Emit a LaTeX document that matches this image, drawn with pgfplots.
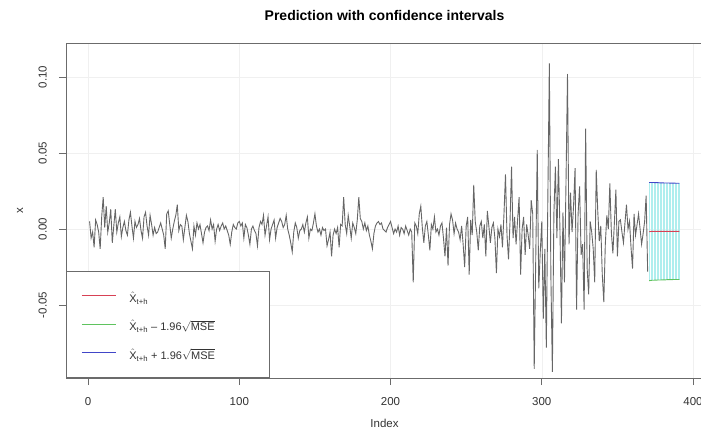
\documentclass[border=0pt]{standalone}
\usepackage{pgfplots}
\pgfplotsset{compat=1.18}
\usepackage{pgfplotstable}
\usepackage{amsmath}
\usepackage{fontspec}
\setmainfont{Liberation Sans}
\definecolor{serie}{rgb}{0.40,0.40,0.40}
\definecolor{predred}{RGB}{215,65,85}
\definecolor{lowgreen}{RGB}{95,195,95}
\definecolor{highblue}{RGB}{65,70,200}
\definecolor{cyanline}{RGB}{175,238,238}
\definecolor{frame}{rgb}{0.42,0.42,0.42}

\pgfplotstableread{
h pred lo hi
371 -0.0018 -0.0340 0.0306
372 -0.0016 -0.0338 0.0306
373 -0.0015 -0.0337 0.0306
374 -0.0015 -0.0337 0.0306
375 -0.0015 -0.0336 0.0305
376 -0.0015 -0.0336 0.0305
377 -0.0015 -0.0335 0.0305
378 -0.0015 -0.0335 0.0304
379 -0.0015 -0.0335 0.0304
380 -0.0015 -0.0334 0.0304
381 -0.0015 -0.0334 0.0303
382 -0.0015 -0.0334 0.0303
383 -0.0015 -0.0333 0.0303
384 -0.0015 -0.0333 0.0303
385 -0.0015 -0.0333 0.0302
386 -0.0015 -0.0333 0.0302
387 -0.0015 -0.0332 0.0302
388 -0.0015 -0.0332 0.0302
389 -0.0015 -0.0332 0.0301
390 -0.0015 -0.0332 0.0301
391 -0.0015 -0.0332 0.0301
}\fc

\begin{document}
\begin{tikzpicture}
\path[use as bounding box] (-66pt,-59pt) rectangle (635pt,378pt);
\begin{axis}[
  scale only axis,
  width=637pt, height=335pt,
  xmin=-14.6, xmax=406.6,
  ymin=-0.098, ymax=0.1224,
  axis line style={frame, line width=0.6pt},
  xtick={0,100,200,300,400},
  xticklabels={0,100,200,300,400},
  ytick={-0.05,0,0.05,0.10},
  yticklabels={-0.05,0.00,0.05,0.10},
  xtick pos=bottom, ytick pos=left,
  tick align=outside,
  major tick length=7pt,
  tick style={frame, line width=0.6pt},
  grid=major,
  grid style={black!6, line width=0.5pt},
  ticklabel style={font=\fontsize{11.5}{13}\selectfont, text=black!80},
  xticklabel style={anchor=center, yshift=-17pt},
  yticklabel style={anchor=south, rotate=90, inner ysep=12pt},
  title={Prediction with confidence intervals},
  title style={at={(0.5,1.0627)}, anchor=center, font=\bfseries\fontsize{14}{16}\selectfont},
  xlabel={Index},
  xlabel style={at={(axis description cs:0.5,-0.134)}, anchor=center, font=\fontsize{11.5}{13}\selectfont, text=black!80},
  ylabel={x},
  ylabel style={at={(axis description cs:-0.0722,0.5)}, anchor=center, rotate=0, font=\fontsize{11.5}{13}\selectfont, text=black!80},
  legend style={at={(0,0)}, anchor=south west, draw=frame, line width=0.6pt, fill=white,
     inner xsep=15pt, inner ysep=15pt, row sep=9pt,
     font=\fontsize{11}{13}\selectfont, text=black!80},
  legend cell align=left,
  legend image code/.code={\draw[#1, line width=1pt] (0pt,0pt) -- (34pt,0pt);},
]
\addplot[forget plot, serie, line width=0.9pt] coordinates {
(1,0.005) (2,-0.006) (3,-0.002) (4,-0.012) (5,0.006) (6,0.003) (7,-0.002) (8,-0.013) (9,0.008) (10,0.021)
(11,0.001) (12,0.015) (13,-0.002) (14,0.004) (15,0.013) (16,-0.009) (17,0.002) (18,0.013) (19,-0.002) (20,0.004)
(21,0.008) (22,-0.005) (23,0.001) (24,0.005) (25,-0.001) (26,-0.004) (27,0.006) (28,0.011) (29,0.002) (30,-0.006)
(31,0.005) (32,0.001) (33,0.003) (34,0.007) (35,-0.001) (36,-0.006) (37,0.008) (38,0.011) (39,0.002) (40,-0.004)
(41,0.009) (42,0.003) (43,-0.004) (44,0.001) (45,-0.003) (46,-0.002) (47,0.001) (48,0.004) (49,0.000) (50,-0.004)
(51,-0.013) (52,0.010) (53,0.012) (54,0.003) (55,-0.006) (56,0.000) (57,0.005) (58,0.009) (59,0.016) (60,-0.001)
(61,0.003) (62,0.002) (63,-0.007) (64,0.001) (65,0.009) (66,0.005) (67,-0.003) (68,-0.008) (69,-0.013) (70,0.002)
(71,-0.004) (72,0.004) (73,0.000) (74,0.003) (75,-0.003) (76,-0.009) (77,-0.002) (78,0.001) (79,0.002) (80,-0.001)
(81,0.006) (82,0.000) (83,0.003) (84,-0.008) (85,0.000) (86,0.003) (87,-0.001) (88,0.002) (89,0.004) (90,0.000)
(91,0.002) (92,-0.001) (93,-0.004) (94,-0.010) (95,-0.002) (96,0.003) (97,0.001) (98,0.000) (99,0.004) (100,0.005)
(101,0.002) (102,0.004) (103,-0.006) (104,0.003) (105,0.001) (106,-0.004) (107,-0.010) (108,0.000) (109,0.002) (110,-0.001)
(111,-0.003) (112,-0.011) (113,0.001) (114,0.005) (115,0.003) (116,0.009) (117,-0.004) (118,0.002) (119,0.008) (120,-0.007)
(121,0.000) (122,0.003) (123,0.006) (124,-0.006) (125,0.001) (126,0.004) (127,0.007) (128,0.005) (129,0.001) (130,0.003)
(131,0.009) (132,0.000) (133,-0.004) (134,-0.009) (135,-0.015) (136,-0.002) (137,0.004) (138,0.001) (139,-0.006) (140,-0.001)
(141,0.000) (142,0.003) (143,-0.002) (144,0.004) (145,0.008) (146,-0.006) (147,0.000) (148,-0.001) (149,0.004) (150,0.010)
(151,0.002) (152,-0.002) (153,0.000) (154,-0.004) (155,0.001) (156,-0.001) (157,0.000) (158,-0.011) (159,-0.007) (160,-0.002)
(161,-0.018) (162,-0.004) (163,0.000) (164,-0.003) (165,0.001) (166,-0.012) (167,0.003) (168,0.002) (169,0.021) (170,0.003)
(171,-0.003) (172,0.009) (173,0.002) (174,-0.006) (175,0.004) (176,0.001) (177,-0.003) (178,0.006) (179,0.021) (180,0.007)
(181,0.005) (182,0.000) (183,0.004) (184,-0.001) (185,0.002) (186,-0.004) (187,-0.008) (188,-0.013) (189,-0.003) (190,0.002)
(191,0.004) (192,0.005) (193,0.003) (194,0.004) (195,0.000) (196,-0.001) (197,-0.002) (198,0.001) (199,0.003) (200,0.005)
(201,0.001) (202,-0.003) (203,0.000) (204,-0.002) (205,0.002) (206,-0.004) (207,0.001) (208,0.000) (209,-0.003) (210,0.002)
(211,-0.001) (212,-0.004) (213,0.000) (214,-0.002) (215,-0.035) (216,0.004) (217,0.002) (218,-0.003) (219,0.010) (220,0.015)
(221,0.001) (222,-0.009) (223,0.002) (224,0.005) (225,-0.004) (226,-0.014) (227,0.003) (228,0.000) (229,0.008) (230,-0.002)
(231,0.000) (232,-0.004) (233,0.002) (234,0.004) (235,-0.006) (236,-0.018) (237,0.001) (238,-0.024) (239,0.003) (240,0.010)
(241,0.006) (242,-0.003) (243,0.004) (244,0.000) (245,-0.002) (246,-0.007) (247,0.002) (248,-0.010) (249,-0.025) (250,0.002)
(251,0.008) (252,-0.030) (253,0.006) (254,-0.004) (255,0.029) (256,0.005) (257,-0.002) (258,-0.014) (259,0.002) (260,0.005)
(261,-0.006) (262,0.003) (263,-0.018) (264,0.012) (265,0.002) (266,-0.009) (267,0.001) (268,0.004) (269,-0.006) (270,-0.029)
(271,0.000) (272,-0.005) (273,0.003) (274,-0.012) (275,0.010) (276,0.036) (277,-0.004) (278,-0.020) (279,0.005) (280,0.041)
(281,-0.006) (282,0.008) (283,-0.010) (284,0.006) (285,0.021) (286,-0.030) (287,0.000) (288,0.008) (289,-0.017) (290,0.003)
(291,-0.004) (292,-0.013) (293,0.019) (294,0.010) (295,-0.092) (296,-0.020) (297,0.052) (298,-0.039) (299,-0.015) (300,0.005)
(301,-0.059) (302,-0.013) (303,-0.078) (304,0.020) (305,0.109) (306,-0.030) (307,-0.094) (308,0.010) (309,0.041) (310,-0.006)
(311,0.046) (312,0.000) (313,-0.062) (314,0.011) (315,-0.035) (316,0.030) (317,0.102) (318,-0.010) (319,0.024) (320,-0.002)
(321,0.015) (322,0.040) (323,-0.053) (324,0.010) (325,0.028) (326,-0.017) (327,-0.010) (328,-0.053) (329,0.066) (330,-0.026)
(331,-0.043) (332,0.005) (333,-0.002) (334,-0.013) (335,-0.035) (336,0.039) (337,0.012) (338,-0.008) (339,0.002) (340,-0.030)
(341,-0.048) (342,-0.010) (343,0.009) (344,0.000) (345,0.030) (346,-0.002) (347,-0.016) (348,0.004) (349,0.026) (350,-0.018)
(351,0.005) (352,0.006) (353,-0.002) (354,-0.009) (355,0.004) (356,0.016) (357,0.000) (358,0.005) (359,-0.012) (360,-0.026)
(361,0.010) (362,-0.004) (363,0.003) (364,0.010) (365,0.000) (366,-0.010) (367,-0.003) (368,0.005) (369,0.022) (370,-0.028)
};
\addplot[forget plot, cyanline, line width=0.3pt, ycomb, mark=none] table[x=h, y=hi] {\fc};
\addplot[forget plot, cyanline, line width=0.3pt, ycomb, mark=none] table[x=h, y=lo] {\fc};
\addplot[predred, line width=0.9pt] table[x=h, y=pred] {\fc};
\addlegendentry{\hspace{11pt}\makebox[123pt][l]{\rule{0pt}{14pt}$\hat{\text{X}}_{\text{t+h}}$}}
\addplot[lowgreen, line width=0.9pt] table[x=h, y=lo] {\fc};
\addlegendentry{\hspace{11pt}\makebox[123pt][l]{\rule{0pt}{14pt}$\hat{\text{X}}_{\text{t+h}}$ -- 1.96$\sqrt{\text{MSE}}$}}
\addplot[highblue, line width=0.9pt] table[x=h, y=hi] {\fc};
\addlegendentry{\hspace{11pt}\makebox[123pt][l]{\rule{0pt}{14pt}$\hat{\text{X}}_{\text{t+h}}$ + 1.96$\sqrt{\text{MSE}}$}}
\end{axis}
\end{tikzpicture}
\end{document}
